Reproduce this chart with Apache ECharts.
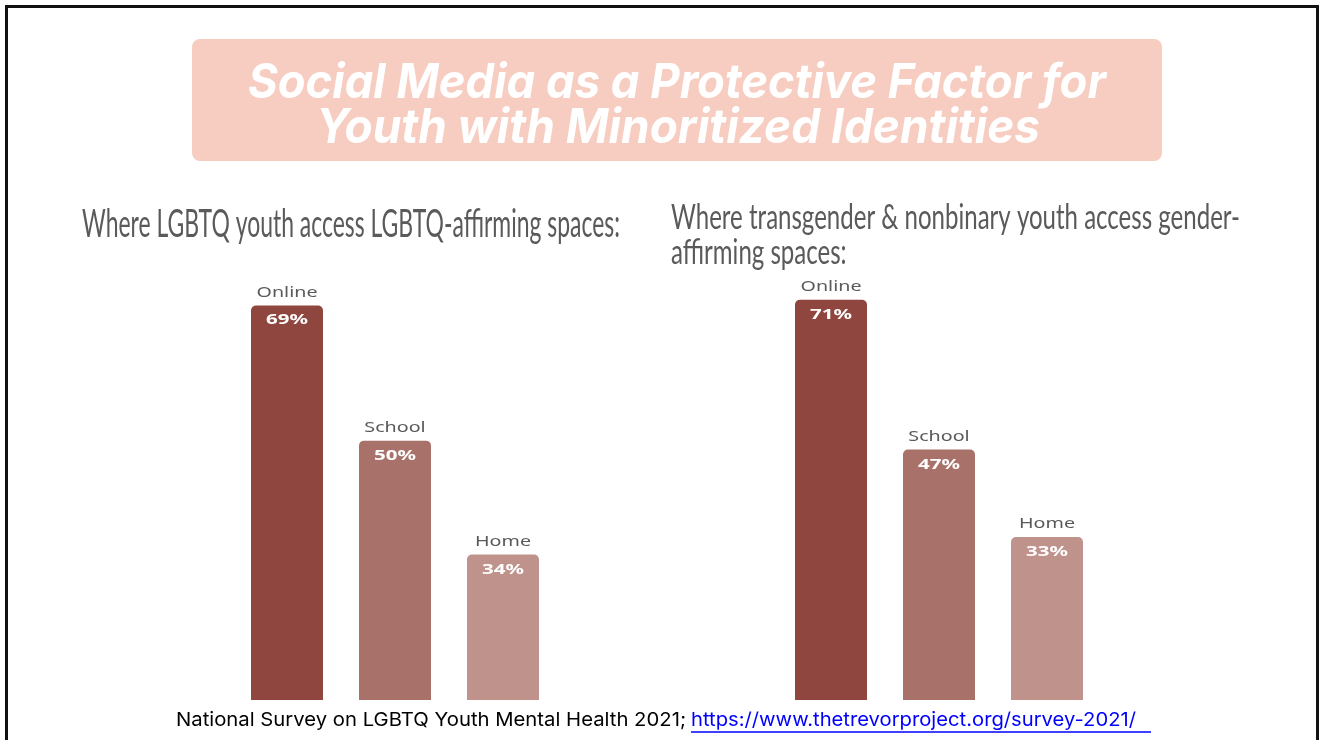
<!DOCTYPE html>
<html>
<head>
<meta charset="utf-8">
<script src="https://cdn.jsdelivr.net/npm/echarts@6/dist/echarts.min.js"></script>
<style>
  html, body { margin: 0; padding: 0; background: #ffffff; }
  #chart { width: 1320px; height: 740px; }
</style>
</head>
<body>
<div id="chart"></div>
<script>
// Survey shares, in percent
const categories = ['Online', 'School', 'Home'];
const lgbtqValues = [69, 50, 34];
const transValues = [71, 47, 33];
const barColors = ['#8E463E', '#A8716A', '#BF938C'];

// Texts
const titleLines = ['Social Media as a Protective Factor for', 'Youth with Minoritized Identities'];
const leftHeading = 'Where LGBTQ youth access LGBTQ-affirming spaces:';
const rightHeading = ['Where transgender & nonbinary youth access gender-', 'affirming spaces:'];
const sourceText = 'National Survey on LGBTQ Youth Mental Health 2021;';
const sourceLink = 'https://www.thetrevorproject.org/survey-2021/';

const chart = echarts.init(document.getElementById('chart'), null, { renderer: 'canvas' });

// Text width helper, used to set a horizontal scale for each text block
const measureCtx = document.createElement('canvas').getContext('2d');
function widthOf(text, font) {
  measureCtx.font = font;
  return measureCtx.measureText(text).width;
}
function textEl(text, font, x, y, fill, align, scaleX, z) {
  return {
    type: 'text', x: x, y: y, scaleX: scaleX, z: z || 20, silent: true,
    style: { text: text, font: font, fill: fill, textAlign: align, verticalAlign: 'middle', textVerticalAlign: 'middle' }
  };
}

function barSeries(values, axisIndex) {
  return {
    type: 'bar',
    xAxisIndex: axisIndex,
    yAxisIndex: axisIndex,
    data: values,
    barWidth: 72,
    clip: true,
    silent: true,
    itemStyle: {
      borderRadius: [5, 5, 0, 0],
      color: function (p) { return barColors[p.dataIndex]; }
    }
  };
}

// The bar baselines sit below the bottom edge; the source strip covers them
chart.setOption({
  animation: false,
  backgroundColor: '#ffffff',
  grid: [
    { left: 233, width: 324, top: 84.8, height: 711.7, containLabel: false, outerBoundsMode: 'none' },
    { left: 777, width: 324, top: 118.8, height: 624.1, containLabel: false, outerBoundsMode: 'none' }
  ],
  xAxis: [
    { type: 'category', gridIndex: 0, data: categories, show: false },
    { type: 'category', gridIndex: 1, data: categories, show: false }
  ],
  yAxis: [
    { type: 'value', gridIndex: 0, min: 0, max: 100, show: false, splitLine: { show: false } },
    { type: 'value', gridIndex: 1, min: 0, max: 100, show: false, splitLine: { show: false } }
  ],
  series: [barSeries(lgbtqValues, 0), barSeries(transValues, 1)]
});

// Labels above and inside each bar
const catFont = '14px "Noto Sans"';
const valFont = 'bold 14px "Noto Sans"';
const catScale = 61 / widthOf('Online', catFont);
const valScale = 42 / widthOf('69%', valFont);

const graphics = [];

// Title panel
graphics.push({
  type: 'rect', silent: true, z: 5,
  shape: { x: 192, y: 39, width: 970, height: 122, r: 8 },
  style: { fill: '#F6CDC0' }
});
const titleFont = 'italic bold 48px Inter';
graphics.push(textEl(titleLines[0], titleFont, 677, 84, '#ffffff', 'center',
  858 / widthOf(titleLines[0], titleFont)));
graphics.push(textEl(titleLines[1], titleFont, 678, 129, '#ffffff', 'center',
  724 / widthOf(titleLines[1], titleFont)));

// Panel headings
const leftFont = '38px Lato';
graphics.push(textEl(leftHeading, leftFont, 82, 225, '#5a5a5a', 'left',
  538 / widthOf(leftHeading, leftFont)));
const rightFont = '34px Lato';
const rightScale = 569 / widthOf(rightHeading[0], rightFont);
graphics.push(textEl(rightHeading[0], rightFont, 671, 218, '#5a5a5a', 'left', rightScale));
graphics.push(textEl(rightHeading[1], rightFont, 671, 253, '#5a5a5a', 'left', rightScale));

[[lgbtqValues, 0], [transValues, 1]].forEach(function (pair) {
  const values = pair[0], idx = pair[1];
  values.forEach(function (v, i) {
    const pt = chart.convertToPixel({ xAxisIndex: idx, yAxisIndex: idx }, [categories[i], v]);
    graphics.push(textEl(categories[i], catFont, pt[0], pt[1] - 12.5, '#5a5a5a', 'center', catScale));
    graphics.push(textEl(v + '%', valFont, pt[0], pt[1] + 15, '#ffffff', 'center', valScale));
  });
});

// Source strip along the bottom edge
graphics.push({
  type: 'rect', silent: true, z: 30,
  shape: { x: 0, y: 700, width: 1320, height: 40 },
  style: { fill: '#ffffff' }
});
const srcFont = '19px Inter';
graphics.push(textEl(sourceText, srcFont, 176, 720, '#000000', 'left',
  510 / widthOf(sourceText, srcFont), 31));
graphics.push(textEl(sourceLink, srcFont, 691, 720, '#0000FF', 'left',
  445 / widthOf(sourceLink, srcFont), 31));
graphics.push({
  type: 'line', silent: true, z: 31,
  shape: { x1: 691, y1: 732, x2: 1151, y2: 732 },
  style: { stroke: '#0000FF', lineWidth: 1.5 }
});

// Slide frame
graphics.push({
  type: 'rect', silent: true, z: 40,
  shape: { x: 6.5, y: 6.5, width: 1311, height: 800 },
  style: { fill: 'none', stroke: '#111111', lineWidth: 3 }
});

chart.setOption({ graphic: graphics });
</script>
</body>
</html>
